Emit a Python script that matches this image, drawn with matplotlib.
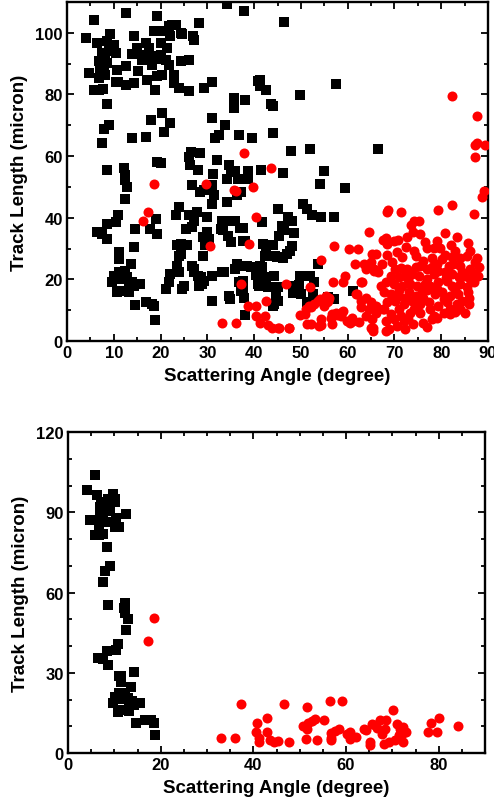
import numpy as np
import matplotlib
matplotlib.use('Agg')
import matplotlib.pyplot as plt
from matplotlib.ticker import MultipleLocator

plt.rcParams['font.family'] = ['Liberation Sans', 'DejaVu Sans']
plt.rcParams['font.weight'] = 'bold'

# top panel, black squares (angle, length)
top_black = [
    (4.0, 98.4), (5.7, 104.0), (6.4, 96.7), (4.7, 87.0), (5.7, 81.5), (6.8, 81.5), (7.6, 81.8),
    (6.8, 85.3), (7.9, 89.7), (8.6, 90.2), (7.1, 88.6), (8.2, 92.4), (9.0, 94.0), (9.3, 99.5),
    (10.0, 96.2), (10.4, 93.5), (10.7, 88.0), (10.4, 84.2), (11.0, 84.2), (8.2, 86.4), (7.5, 93.5),
    (8.6, 97.3), (6.9, 91.0), (7.3, 90.0), (12.7, 106.5), (12.7, 89.1), (12.7, 83.2), (14.3, 98.9),
    (14.3, 83.7), (15.1, 87.5), (15.0, 95.1), (15.0, 93.5), (16.1, 91.3), (16.8, 96.7), (17.5, 95.1),
    (17.0, 84.8), (17.1, 92.9), (18.2, 89.7), (18.6, 100.5), (18.9, 92.4), (19.3, 105.4), (18.9, 81.5),
    (19.3, 85.9), (20.0, 96.7), (20.0, 92.9), (20.4, 86.4), (20.7, 100.5), (21.1, 91.3), (21.4, 95.1),
    (21.8, 102.2), (22.1, 98.9), (21.8, 89.7), (22.5, 102.7), (23.2, 102.7), (22.9, 86.4), (22.9, 83.7),
    (23.9, 82.1), (24.3, 100.0), (24.6, 99.5), (24.3, 90.8), (26.1, 91.3), (26.1, 81.0), (27.0, 98.9),
    (27.1, 97.8), (28.2, 103.3), (29.3, 82.1), (30.9, 84.2), (34.2, 109.2), (37.9, 107.1), (16.0, 92.0),
    (19.6, 91.5), (13.8, 93.0),
    (8.6, 76.8), (7.9, 68.8), (8.9, 70.1), (7.5, 64.1), (8.6, 55.4), (12.1, 56.0), (12.3, 53.8),
    (12.5, 52.2), (12.9, 50.0), (12.5, 46.2), (13.9, 65.8), (16.8, 66.3), (17.9, 71.7), (19.3, 58.2),
    (20.0, 57.6), (20.4, 73.9), (20.7, 67.9), (22.1, 70.7), (6.4, 35.3), (7.5, 34.8), (8.6, 33.2),
    (8.6, 38.0), (10.4, 38.6), (10.9, 40.8), (14.6, 36.4), (17.7, 36.4), (19.3, 34.8), (19.0, 39.7),
    (11.1, 28.8), (11.1, 26.6), (14.3, 30.4), (13.6, 25.0), (9.6, 19.0), (10.0, 21.2), (11.1, 22.3),
    (10.7, 15.8), (11.4, 16.3), (11.8, 20.1), (12.5, 22.8), (12.9, 20.7), (13.2, 18.5), (13.2, 15.8),
    (13.9, 19.0), (14.3, 17.9), (15.7, 18.5), (14.6, 11.6), (16.8, 12.5), (18.2, 12.0), (18.6, 11.4),
    (18.9, 6.8), (21.1, 16.8), (21.8, 19.0), (22.1, 21.7), (23.2, 40.8), (23.9, 43.5), (23.6, 31.0),
    (23.9, 27.7), (24.3, 31.5), (24.3, 28.3), (24.6, 16.8), (25.0, 17.9), (25.4, 36.4), (25.7, 31.0),
    (26.1, 59.8), (26.3, 57.1), (26.6, 61.4), (26.8, 50.5), (27.9, 55.4), (28.4, 60.9), (26.1, 40.8),
    (26.8, 37.0), (28.4, 48.4), (29.3, 48.9), (30.0, 40.2), (29.0, 33.7), (30.0, 35.3), (30.4, 33.2),
    (29.6, 31.0), (29.0, 27.5), (26.8, 24.5), (27.1, 22.3), (27.9, 21.2), (28.6, 20.7), (29.3, 19.6),
    (28.2, 17.9), (28.9, 18.5), (31.1, 21.2), (30.9, 13.0), (31.1, 50.5), (31.2, 54.3), (31.4, 47.3),
    (30.9, 72.3), (31.6, 65.8), (32.5, 66.8), (33.7, 70.1), (32.1, 58.7), (32.9, 36.4), (33.4, 35.9),
    (33.2, 22.3), (33.6, 22.3), (34.1, 45.1), (34.3, 52.7), (34.6, 57.1), (35.0, 54.9), (34.5, 34.2),
    (35.0, 32.1), (34.6, 14.7), (34.8, 13.6), (35.7, 78.8), (35.7, 75.5), (36.8, 66.8), (36.0, 39.1),
    (36.4, 47.3), (36.6, 52.7), (37.1, 48.4), (37.0, 24.5), (36.8, 19.0), (37.1, 16.3), (35.9, 55.1),
    (31.0, 44.6), (27.8, 41.8), (33.1, 38.8), (34.9, 38.8), (27.1, 38.8), (37.0, 36.6), (23.6, 24.5),
    (23.9, 22.3), (27.1, 23.4), (35.9, 23.4), (36.3, 25.0),
    (46.4, 103.6), (41.2, 84.8), (41.2, 82.9), (42.5, 81.5), (38.1, 78.3), (49.8, 79.7), (57.5, 83.4),
    (43.6, 76.8), (44.1, 76.1), (44.1, 67.4), (39.5, 66.0), (47.9, 61.6), (51.9, 62.2), (66.4, 62.3),
    (41.4, 55.4), (46.2, 54.6), (55.0, 55.2), (38.6, 55.1), (38.7, 52.7), (54.1, 51.1), (59.4, 49.5),
    (45.0, 42.9), (50.5, 44.3), (51.2, 42.7), (52.3, 41.0), (54.3, 40.4), (57.0, 40.4), (47.3, 40.2),
    (48.0, 39.1), (41.6, 38.6), (46.0, 37.3), (46.4, 35.9), (45.4, 34.0), (48.6, 35.1), (37.6, 36.6),
    (38.0, 32.4), (41.9, 31.5), (44.1, 31.3), (42.6, 29.9), (48.0, 30.8), (47.6, 29.1), (47.1, 28.3),
    (42.4, 27.7), (44.4, 27.7), (46.2, 26.8), (44.8, 27.4), (38.4, 24.5), (39.3, 23.9), (41.2, 24.2),
    (41.7, 23.9), (40.3, 21.4), (42.1, 20.7), (44.3, 21.0), (49.8, 21.2), (51.9, 21.2), (37.6, 19.6),
    (41.1, 17.9), (42.9, 17.4), (45.0, 17.4), (48.7, 17.7), (49.6, 18.2), (52.9, 19.0), (37.6, 16.8),
    (48.3, 15.5), (50.1, 15.2), (52.5, 15.2), (37.9, 14.1), (53.7, 25.0), (55.7, 14.3), (57.0, 13.6),
    (61.1, 16.1), (44.3, 12.0), (45.0, 13.0), (51.2, 12.7), (52.3, 12.3), (38.0, 8.4), (37.7, 32.6),
    (40.9, 84.5), (44.7, 14.7), (44.0, 11.4), (40.8, 18.5), (42.6, 17.9),
]

# top panel, red circles
top_red = [
    (18.7, 50.8), (17.3, 41.8), (16.3, 38.8), (29.8, 50.8), (30.6, 30.8), (33.2, 5.8), (36.1, 5.8),
    (35.7, 48.9), (36.1, 48.6), (37.8, 60.9), (37.3, 18.5), (38.7, 11.4), (39.0, 31.5), (39.8, 50.0),
    (40.4, 40.4), (43.7, 56.2), (40.4, 11.4), (40.5, 8.2), (41.2, 6.0), (42.4, 8.2), (43.0, 5.2),
    (43.9, 4.3), (45.0, 4.3), (47.4, 4.3), (42.6, 13.0), (46.8, 18.5), (45.4, 4.3),
    (50.9, 8.7), (52.1, 10.9), (52.9, 12.0), (53.6, 13.0), (54.1, 13.6), (52.2, 5.4), (54.4, 7.1),
    (54.4, 5.1), (51.9, 17.4), (54.4, 26.3), (57.0, 30.8), (56.9, 19.2), (56.1, 13.8), (55.6, 12.5),
    (56.7, 8.7), (56.4, 7.6), (57.7, 8.4), (58.7, 9.5), (59.4, 21.2), (60.3, 29.7), (62.3, 29.9),
    (61.6, 25.0), (63.1, 19.0), (60.5, 6.0), (61.2, 6.5), (62.4, 6.2), (61.9, 15.2), (62.9, 10.9),
    (63.5, 25.0), (64.5, 35.5), (65.1, 7.1), (64.9, 4.3), (65.1, 28.3), (65.6, 22.8),
    (67.5, 32.9), (66.1, 28.3), (65.0, 25.5), (63.9, 23.4), (65.7, 23.4), (66.4, 22.3), (59.1, 19.2),
    (62.8, 19.0), (67.1, 17.9), (61.8, 15.2), (62.9, 13.0), (63.9, 14.1), (65.0, 12.5), (66.1, 11.4),
    (64.6, 10.3), (66.1, 9.2), (67.5, 10.3), (51.8, 11.4), (51.1, 10.3), (55.7, 13.0), (55.0, 11.4),
    (55.4, 14.7), (49.9, 8.4), (51.4, 5.4), (53.8, 4.9), (57.5, 9.2), (58.9, 9.8), (58.6, 8.2),
    (56.6, 5.4), (59.9, 6.5), (61.0, 7.6), (63.9, 8.2), (65.4, 4.3), (65.4, 3.3), (47.5, 4.3),
    (82.4, 79.6), (87.6, 73.0), (87.2, 63.6), (87.6, 64.1), (89.3, 63.6), (87.2, 59.8), (89.1, 48.6),
    (88.7, 46.7), (86.9, 41.3), (68.7, 42.6), (68.4, 41.8), (71.4, 41.8), (79.4, 42.6), (82.4, 44.0),
    (74.1, 39.1), (75.2, 39.1), (73.5, 37.5), (72.7, 33.7), (74.0, 35.3), (75.4, 34.6), (80.9, 35.1),
    (83.3, 33.7), (79.1, 32.6), (68.1, 33.4), (68.4, 31.5), (69.9, 32.6), (70.7, 32.9),
    (77.0, 30.2), (78.4, 30.2), (79.8, 30.2), (85.8, 31.8), (86.2, 29.3), (85.6, 27.7), (87.6, 26.8),
    (87.2, 25.5), (74.1, 29.3), (74.5, 27.7), (71.6, 27.2), (69.5, 25.8), (67.4, 25.0),
    (80.9, 28.0), (83.0, 29.3), (82.3, 27.2), (80.2, 26.6), (79.1, 25.0), (81.6, 24.5), (84.1, 24.5),
    (86.2, 23.4), (86.9, 21.7), (70.2, 23.4), (71.3, 23.6), (72.7, 23.4), (75.5, 24.5), (76.9, 23.4),
    (69.2, 21.2), (70.9, 20.7), (72.3, 21.2), (73.8, 21.7), (75.2, 21.2), (78.4, 21.7), (79.4, 22.8),
    (80.9, 22.3), (82.3, 21.7), (83.7, 20.7), (85.1, 21.2), (86.2, 20.1),
    (68.1, 19.0), (69.9, 18.5), (71.6, 17.9), (73.4, 18.5), (74.8, 17.9), (76.6, 18.5), (77.7, 17.9),
    (79.4, 19.0), (81.2, 19.6), (82.3, 17.9), (84.1, 18.5), (85.5, 17.4),
    (67.8, 15.8), (69.2, 15.2), (71.0, 14.7), (73.1, 15.8), (74.5, 14.7), (75.9, 15.8), (78.7, 15.2),
    (80.1, 15.8), (81.9, 14.7), (83.6, 15.2), (85.8, 15.8),
    (68.4, 12.5), (70.2, 13.0), (72.0, 12.0), (73.8, 13.0), (75.5, 12.0), (77.3, 12.5), (79.4, 11.4),
    (81.2, 12.5), (83.3, 12.0), (81.9, 10.3), (77.7, 10.3), (74.1, 10.3), (70.9, 10.3), (67.7, 10.3),
    (69.2, 8.7), (71.3, 8.2), (73.4, 9.2), (75.5, 9.2), (78.4, 8.2), (80.5, 9.2), (81.9, 8.7),
    (84.0, 10.3), (68.1, 6.5), (69.9, 7.1), (72.0, 6.5), (78.1, 7.1), (79.1, 7.4),
    (68.8, 3.8), (68.1, 3.3), (70.6, 4.9), (72.3, 3.8),
    (76.0, 26.0), (78.0, 27.0), (84.0, 27.0), (88.0, 24.0), (87.8, 21.0), (87.0, 19.0), (86.0, 14.0),
    (84.5, 13.0), (83.0, 9.5), (76.0, 6.0), (74.0, 5.5), (77.0, 4.5), (73.0, 7.0), (76.0, 14.0),
    (77.0, 16.5), (79.0, 17.0), (83.0, 16.5), (71.0, 16.5), (73.0, 20.0), (77.0, 20.0), (81.0, 20.5),
    (84.5, 22.5), (68.5, 28.0), (70.5, 29.0), (72.5, 30.5), (76.5, 32.0), (82.0, 31.0), (86.0, 12.0),
    (85.0, 9.0), (69.5, 14.0), (72.5, 14.0), (80.5, 13.5), (74.5, 24.0), (78.0, 24.0), (82.5, 25.0),
]

# bottom panel, black squares
bot_black = [
    (4.0, 98.4), (5.9, 104.1), (6.3, 96.5), (4.7, 87.2), (5.8, 81.6), (6.6, 81.6), (7.6, 81.9),
    (6.7, 85.3), (6.8, 91.9), (7.6, 90.0), (8.3, 90.6), (7.9, 93.1), (8.6, 95.0), (9.6, 96.9),
    (10.1, 95.0), (10.1, 93.8), (10.4, 87.8), (10.1, 84.4), (10.9, 84.4), (6.8, 88.7), (8.3, 86.3),
    (7.2, 93.8), (9.0, 91.0), (7.3, 89.0), (12.6, 89.2), (8.4, 77.0), (7.9, 68.2), (9.0, 70.1),
    (7.6, 63.9), (8.6, 55.4), (12.2, 56.0), (12.0, 54.3), (12.2, 52.4), (13.0, 50.2), (12.5, 46.1),
    (6.5, 35.5), (7.6, 35.2), (8.6, 33.0), (8.5, 38.0), (10.4, 38.4), (10.8, 40.6), (14.2, 30.3),
    (11.0, 28.8), (11.5, 28.8), (11.5, 26.5), (13.5, 24.7), (9.7, 18.8), (10.1, 20.9), (11.0, 22.5),
    (10.8, 15.3), (11.5, 15.9), (11.9, 20.3), (12.4, 22.5), (12.9, 20.5), (13.2, 18.4), (13.2, 15.7),
    (13.8, 19.3), (14.3, 18.0), (15.5, 18.7), (14.6, 11.3), (16.7, 12.5), (18.0, 12.2), (18.5, 11.3),
    (18.7, 6.6),
]

# bottom panel, red circles
bot_red = [
    (18.5, 50.6), (17.3, 41.8), (33.1, 5.6), (36.0, 5.6), (37.4, 18.4), (40.7, 11.3), (40.5, 7.8),
    (41.2, 5.6), (41.2, 4.1), (42.9, 13.1), (42.9, 7.8), (43.6, 4.7), (44.4, 4.1), (45.3, 4.4),
    (46.7, 18.4), (47.7, 4.1), (51.6, 17.2), (50.8, 10.1), (51.6, 9.1), (51.9, 11.3), (52.7, 12.0),
    (53.4, 12.8), (51.4, 5.4), (53.8, 4.7), (55.2, 12.2), (56.6, 19.4), (59.1, 19.3), (56.8, 7.6),
    (56.8, 5.7), (56.8, 4.7), (57.7, 8.2), (58.4, 9.1), (60.2, 7.0), (60.9, 7.8), (60.8, 5.4),
    (62.2, 6.0), (63.8, 8.8), (64.4, 8.5), (65.2, 4.1), (65.2, 3.1), (65.6, 11.0), (66.3, 10.3),
    (66.7, 9.3), (67.4, 12.2), (67.7, 7.2), (68.7, 12.2), (68.5, 8.8), (68.2, 3.5), (69.2, 4.1),
    (70.1, 15.9), (71.0, 11.0), (70.6, 4.7), (71.7, 9.1), (72.0, 7.2), (72.3, 9.7), (72.4, 4.1),
    (71.5, 6.6), (73.0, 7.8), (77.8, 7.8), (78.3, 11.3), (79.6, 7.8), (80.1, 13.1), (84.2, 10.1),
]


def style_axis(ax, xmaj, xmin, ymaj, ymin):
    ax.xaxis.set_major_locator(MultipleLocator(xmaj))
    ax.xaxis.set_minor_locator(MultipleLocator(xmin))
    ax.yaxis.set_major_locator(MultipleLocator(ymaj))
    ax.yaxis.set_minor_locator(MultipleLocator(ymin))
    ax.tick_params(which='both', direction='in', top=True, right=True, width=1.3)
    ax.tick_params(which='major', length=5, labelsize=12, pad=3)
    ax.tick_params(which='minor', length=2.6)
    for sp in ax.spines.values():
        sp.set_linewidth(1.7)
    ax.set_xlabel('Scattering Angle (degree)', fontsize=13.5, fontweight='bold', labelpad=5)
    ax.set_ylabel('Track Length (micron)', fontsize=13.5, fontweight='bold', labelpad=5)
    for lab in ax.get_xticklabels() + ax.get_yticklabels():
        lab.set_fontweight('bold')


fig = plt.figure(figsize=(4.94, 8.12), dpi=100)
ax1 = fig.add_axes([0.1356, 0.5788, 0.8523, 0.4175])
ax2 = fig.add_axes([0.1377, 0.0714, 0.8441, 0.3953])

bx, by = zip(*top_black)
rx, ry = zip(*top_red)
ax1.scatter(bx, by, marker='s', s=44, color='black', linewidths=0, zorder=3)
ax1.scatter(rx, ry, marker='o', s=52, color='#ff0000', linewidths=0, zorder=3)
ax1.set_xlim(0, 90)
ax1.set_ylim(0, 110)
style_axis(ax1, 10, 5, 20, 10)

bx, by = zip(*bot_black)
rx, ry = zip(*bot_red)
ax2.scatter(bx, by, marker='s', s=44, color='black', linewidths=0, zorder=3)
ax2.scatter(rx, ry, marker='o', s=52, color='#ff0000', linewidths=0, zorder=3)
ax2.set_xlim(0, 90)
ax2.set_ylim(0, 120)
style_axis(ax2, 20, 5, 30, 10)

fig.savefig('out.png', dpi=100)
